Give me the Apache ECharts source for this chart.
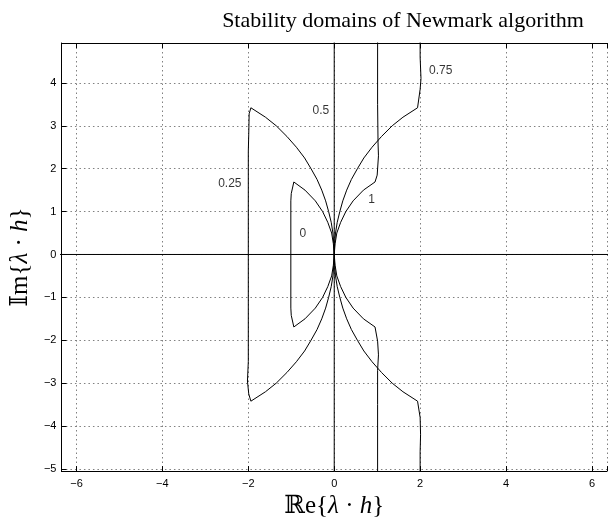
<!DOCTYPE html>
<html>
<head>
<meta charset="utf-8">
<script src="https://cdn.jsdelivr.net/npm/echarts@6/dist/echarts.min.js"></script>
<style>html,body{margin:0;padding:0;background:#fff}#c{width:610px;height:524px}</style>
</head>
<body>
<div id="c"></div>
<script>
// ---- data, x = Re{λh}, y = Im{λh} ----
var xTicks = [-6, -4, -2, 0, 2, 4, 6];
var yTicks = [-5, -4, -3, -2, -1, 0, 1, 2, 3, 4];

// gamma = 0 : closed domain on the left
var curve0 = [
  [0, 0], [-0.02, 0.25], [-0.06, 0.5], [-0.15, 0.75], [-0.27, 1], [-0.44, 1.25], [-0.68, 1.5], [-0.94, 1.69],
  [-1.0, 1.42], [-1.01, 1.25], [-1.01, -1.25], [-1.0, -1.42],
  [-0.94, -1.69], [-0.68, -1.5], [-0.44, -1.25], [-0.27, -1], [-0.15, -0.75], [-0.06, -0.5], [-0.02, -0.25], [0, 0]
];
// gamma = 0.25 : closed domain on the left
var curve025 = [
  [0, 0], [-0.01, 0.25], [-0.03, 0.5], [-0.07, 0.75], [-0.13, 1], [-0.2, 1.25], [-0.29, 1.5], [-0.4, 1.75],
  [-0.54, 2], [-0.69, 2.25], [-0.88, 2.5], [-1.1, 2.75], [-1.35, 3], [-1.6, 3.2], [-1.94, 3.42],
  [-1.98, 3.28], [-1.99, 2.8], [-2.0, 2.4], [-2.0, -2.5], [-2.02, -2.95], [-1.99, -3.25],
  [-1.94, -3.42], [-1.6, -3.2], [-1.35, -3], [-1.1, -2.75], [-0.88, -2.5], [-0.69, -2.25], [-0.54, -2],
  [-0.4, -1.75], [-0.29, -1.5], [-0.2, -1.25], [-0.13, -1], [-0.07, -0.75], [-0.03, -0.5], [-0.01, -0.25], [0, 0]
];
// gamma = 0.5 : imaginary axis
var curve05 = [[0, -5.2], [0, 5.2]];
// gamma = 0.75 : open boundary on the right
var curve075 = [
  [2.0, 5.2], [2.0, 4.6], [2.02, 4.1], [2.0, 3.85], [1.94, 3.42], [1.6, 3.2], [1.35, 3], [1.1, 2.75],
  [0.88, 2.5], [0.69, 2.25], [0.54, 2], [0.4, 1.75], [0.29, 1.5], [0.2, 1.25], [0.13, 1], [0.07, 0.75],
  [0.03, 0.5], [0.01, 0.25], [0, 0], [0.01, -0.25], [0.03, -0.5], [0.07, -0.75], [0.13, -1], [0.2, -1.25],
  [0.29, -1.5], [0.4, -1.75], [0.54, -2], [0.69, -2.25], [0.88, -2.5], [1.1, -2.75], [1.35, -3], [1.6, -3.2],
  [1.94, -3.42], [2.0, -3.8], [2.01, -4.2], [2.0, -4.6], [2.0, -5.2]
];
// gamma = 1 : open boundary on the right
var curve1 = [
  [1.01, 5.2], [1.01, 3.5], [1.02, 2.6], [1.03, 2.3], [1.0, 1.85], [0.95, 1.69], [0.68, 1.5], [0.44, 1.25],
  [0.27, 1], [0.15, 0.75], [0.06, 0.5], [0.02, 0.25], [0, 0], [0.02, -0.25], [0.06, -0.5], [0.15, -0.75],
  [0.27, -1], [0.44, -1.25], [0.68, -1.5], [0.95, -1.69], [1.01, -2.02], [1.03, -2.34], [1.01, -2.7],
  [1.01, -3.5], [1.01, -5.2]
];
// real axis
var realAxis = [[-6.5, 0], [6.5, 0]];

// curve labels: [x, y, text]
var curveLabels = [
  [-0.73, 0.48, '0'],
  [-2.43, 1.65, '0.25'],
  [-0.31, 3.36, '0.5'],
  [2.48, 4.29, '0.75'],
  [0.87, 1.27, '1']
];

var xRange = [-6.35, 6.35];
var yRange = [-5.05, 4.93];

// ---- chart ----
var chart = echarts.init(document.getElementById('c'), null, {renderer: 'canvas'});
var sansFont = "'Liberation Sans', Arial, sans-serif";
var mathFont = "'Liberation Serif', 'DejaVu Serif', serif";

function tickFmt(step) {
  return function (v) {
    var r = Math.round(v / step) * step;
    if (Math.abs(v - r) > 1e-6) return '';
    return String(r).replace('-', '\u2212');
  };
}

function lineSeries(data) {
  return {
    type: 'line', data: data, showSymbol: false, symbol: 'none', smooth: false,
    lineStyle: {color: '#000', width: 1}, clip: true, silent: true, z: 3
  };
}

var gridLine = {show: true, lineStyle: {color: '#808080', width: 1, type: [1.5, 3]}};

var option = {
  animation: false,
  backgroundColor: '#fff',
  title: {
    text: 'Stability domains of Newmark algorithm',
    left: 398, top: 5, textAlign: 'center',
    textStyle: {fontFamily: mathFont, fontWeight: 'normal', fontSize: 22, color: '#000'}
  },
  grid: {left: 59, top: 43, width: 553, height: 435, containLabel: false},
  xAxis: [{
    type: 'value', min: xRange[0], max: xRange[1], minInterval: 2, maxInterval: 2, splitNumber: 6,
    position: 'bottom',
    axisLine: {show: true, onZero: false, lineStyle: {color: '#000', width: 1}},
    axisTick: {show: true, inside: true, length: 5, lineStyle: {color: '#000', width: 1}},
    axisLabel: {show: true, margin: 7, formatter: tickFmt(2), color: '#000', fontFamily: sansFont, fontSize: 11, showMinLabel: true, showMaxLabel: true},
    splitLine: gridLine,
    name: '\u211De{{i|\u03BB} \u00B7 {i|h}}', nameLocation: 'middle', nameGap: 20,
    nameTextStyle: {fontFamily: mathFont, fontSize: 25, color: '#000',
      rich: {i: {fontFamily: mathFont, fontStyle: 'italic', fontSize: 25, color: '#000'}}}
  }, {
    type: 'value', min: xRange[0], max: xRange[1], minInterval: 2, maxInterval: 2, splitNumber: 6,
    position: 'top',
    axisLine: {show: true, onZero: false, lineStyle: {color: '#000', width: 1}},
    axisTick: {show: true, inside: true, length: 5, lineStyle: {color: '#000', width: 1}},
    axisLabel: {show: false}, splitLine: {show: false}
  }],
  yAxis: [{
    type: 'value', min: yRange[0], max: yRange[1], minInterval: 1, maxInterval: 1, splitNumber: 10,
    position: 'left',
    axisLine: {show: true, onZero: false, lineStyle: {color: '#000', width: 1}},
    axisTick: {show: true, inside: true, length: 5, lineStyle: {color: '#000', width: 1}},
    axisLabel: {show: true, margin: 5, formatter: tickFmt(1), color: '#000', fontFamily: sansFont, fontSize: 11},
    splitLine: gridLine,
    name: '\uD835\uDD40m{{i|\u03BB} \u00B7 {i|h}}', nameLocation: 'middle', nameGap: 24,
    nameTextStyle: {fontFamily: mathFont, fontSize: 25, color: '#000',
      rich: {i: {fontFamily: mathFont, fontStyle: 'italic', fontSize: 25, color: '#000'}}}
  }],
  series: [
    lineSeries(realAxis),
    lineSeries(curve05),
    lineSeries(curve0),
    lineSeries(curve025),
    lineSeries(curve075),
    lineSeries(curve1),
    {
      type: 'scatter', symbolSize: 0, silent: true, z: 4,
      data: curveLabels.map(function (d) { return [d[0], d[1], d[2]]; }),
      label: {show: true, position: 'inside', formatter: function (p) { return p.data[2]; },
        color: '#000', fontFamily: sansFont, fontSize: 12}
    }
  ]
};
chart.setOption(option);
</script>
</body>
</html>
